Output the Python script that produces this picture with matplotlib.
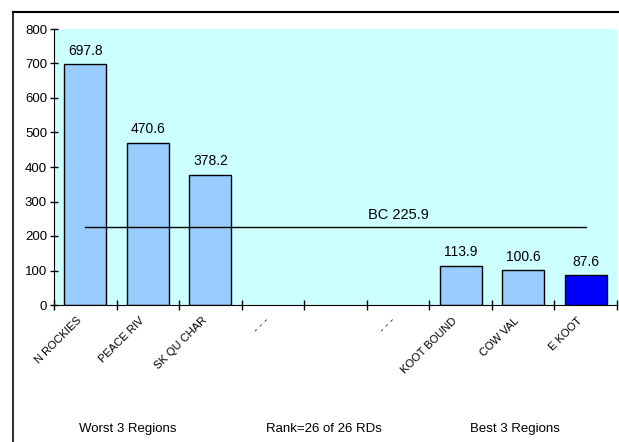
import matplotlib.pyplot as plt
from matplotlib.lines import Line2D

plt.rcParams['font.family'] = ['Liberation Sans', 'DejaVu Sans']

regions = ['N ROCKIES', 'PEACE RIV', 'SK QU CHAR', '- - -', '', '- - -', 'KOOT BOUND', 'COW VAL', 'E KOOT']
values = [697.8, 470.6, 378.2, None, None, None, 113.9, 100.6, 87.6]
colors = ['#99CCFF', '#99CCFF', '#99CCFF', 'none', 'none', 'none', '#99CCFF', '#99CCFF', '#0000FF']
bc_value = 225.9
bottom_labels = ['Worst 3 Regions', 'Rank=26 of 26 RDs', 'Best 3 Regions']

W, H = 619, 442
fig = plt.figure(figsize=(W / 100, H / 100), dpi=100)
ax = fig.add_axes([54 / W, 1 - 305 / H, (617 - 54) / W, (305 - 29) / H])
ax.set_facecolor('#CCFFFF')

for i, v in enumerate(values):
    if v is None:
        continue
    ax.bar(i, v, width=0.67, color=colors[i], edgecolor='black', linewidth=1, zorder=2)
    ax.text(i, v + 18, f'{v:.1f}', ha='center', va='bottom', fontsize=10)

# BC average line across the regions
ax.plot([0, len(regions) - 1], [bc_value, bc_value], color='black', linewidth=1, zorder=3)
ax.text(5, bc_value + 35, f'BC {bc_value}', ha='center', va='center', fontsize=10.5)

ax.set_xlim(-0.5, len(regions) - 0.5)
ax.set_ylim(0, 800)
ax.set_yticks(range(0, 801, 100))
ax.set_xticks([i - 0.5 for i in range(len(regions) + 1)])
ax.set_xticklabels([])
ax.tick_params(axis='both', direction='inout', length=6, width=1, labelsize=9.5, pad=2)
ax.tick_params(axis='x', length=7)
for i, lab in enumerate(regions):
    ax.text(i - 0.14, -30, lab, rotation=45, ha='right', va='top', rotation_mode='anchor',
            fontsize=8)

ax.spines['top'].set_visible(False)
ax.spines['right'].set_visible(False)

for lab, xc in zip(bottom_labels, [128, 324, 515]):
    fig.text(xc / W, 1 - 429 / H, lab, ha='center', va='center', fontsize=9.5)

# outer frame
fig.add_artist(Line2D([13 / W, 13 / W], [0, 1 - 12 / H], color='#333333', linewidth=1.5))
fig.add_artist(Line2D([13 / W, 1], [1 - 12 / H, 1 - 12 / H], color='black', linewidth=1.5))

fig.savefig('out.png', dpi=100)
